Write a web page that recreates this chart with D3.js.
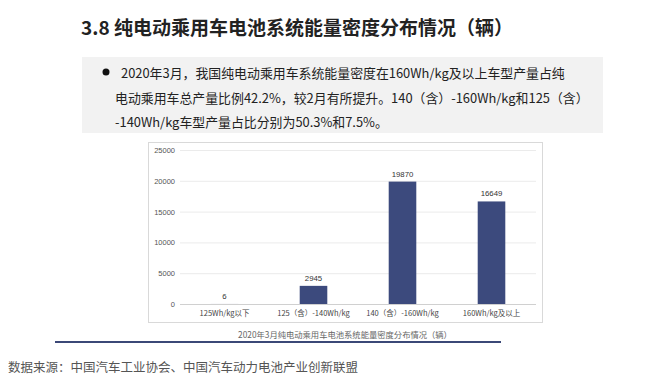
<!DOCTYPE html>
<html>
<head>
<meta charset="utf-8">
<script src="https://cdn.jsdelivr.net/npm/d3@7"></script>
<style>
  body { margin: 0; background: #fff; }
  svg text { font-family: "Noto Sans CJK SC", "Noto Sans", sans-serif; }
</style>
</head>
<body>
<div id="chart"></div>
<script>
/* Data */

var categories = ["125Wh/kg以下", "125（含）-140Wh/kg", "140（含）-160Wh/kg", "160Wh/kg及以上"];
var values = [6, 2945, 19870, 16649];
var yTicks = [0, 5000, 10000, 15000, 20000, 25000];

var titleText = "3.8 纯电动乘用车电池系统能量密度分布情况（辆）";
var noteLines = [
    "2020年3月，我国纯电动乘用车系统能量密度在160Wh/kg及以上车型产量占纯",
    "电动乘用车总产量比例42.2%，较2月有所提升。140（含）-160Wh/kg和125（含）",
    "-140Wh/kg车型产量占比分别为50.3%和7.5%。"
];
var captionText = "2020年3月纯电动乘用车电池系统能量密度分布情况（辆）";
var sourceText = "数据来源：中国汽车工业协会、中国汽车动力电池产业创新联盟";

var width = 648,
    height = 383;

var svg = d3.select("#chart").append("svg")
    .attr("width", width)
    .attr("height", height);

/* Title */
svg.append("text")
    .attr("x", 81).attr("y", 35)
    .attr("font-size", 19).attr("font-weight", "bold")
    .attr("fill", "#222")
    .text(titleText);

/* Note box */
svg.append("rect")
    .attr("x", 82).attr("y", 57)
    .attr("width", 521).attr("height", 76)
    .attr("fill", "#f2f2f2");
svg.append("circle")
    .attr("cx", 106).attr("cy", 72).attr("r", 3.5)
    .attr("fill", "#111");
svg.selectAll("text.note")
    .data(noteLines)
    .enter().append("text")
    .attr("class", "note")
    .attr("x", function(d, i) { return i == 0 ? 121 : 115; })
    .attr("y", function(d, i) { return 78 + i * 24.5; })
    .attr("font-size", 12.9)
    .attr("fill", "#222")
    .text(function(d) { return d; });

/* Chart frame */
svg.append("rect")
    .attr("x", 148.5).attr("y", 142.5)
    .attr("width", 394).attr("height", 180)
    .attr("fill", "#fff")
    .attr("stroke", "#d9d9d9");

var x = d3.scaleBand()
    .domain(categories)
    .range([180, 536])
    .paddingInner(0.69)
    .paddingOuter(0.345);

var y = d3.scaleLinear()
    .domain([0, 25000])
    .range([304, 150]);

// gridlines
svg.append("g").selectAll("line")
    .data(yTicks)
    .enter().append("line")
    .attr("x1", 180).attr("x2", 536)
    .attr("y1", function(d) { return y(d) + 0.5; })
    .attr("y2", function(d) { return y(d) + 0.5; })
    .attr("stroke", function(d) { return d == 0 ? "#d0d0d0" : "#ebebeb"; });

// y axis labels
var yAxis = d3.axisLeft(y).tickValues(yTicks).tickFormat(d3.format("d")).tickSize(0).tickPadding(0);
var yg = svg.append("g").attr("transform", "translate(175,0)").call(yAxis);
yg.select(".domain").remove();
yg.selectAll("text")
    .attr("font-size", 7.5)
    .attr("fill", "#555")
    .style("font-family", "'Liberation Sans', sans-serif");

// bars
svg.append("g").selectAll("rect")
    .data(values)
    .enter().append("rect")
    .attr("x", function(d, i) { return x(categories[i]); })
    .attr("width", x.bandwidth())
    .attr("y", function(d) { return y(d); })
    .attr("height", function(d) { return y(0) - y(d); })
    .attr("fill", "#3c4a7d");

// value labels
svg.append("g").selectAll("text")
    .data(values)
    .enter().append("text")
    .attr("x", function(d, i) { return x(categories[i]) + x.bandwidth() / 2; })
    .attr("y", function(d) { return y(d) - 5; })
    .attr("text-anchor", "middle")
    .attr("font-size", 7.8)
    .attr("fill", "#333")
    .style("font-family", "'Liberation Sans', sans-serif")
    .text(function(d) { return d; });

// x axis labels
var xAxis = d3.axisBottom(x).tickSize(0).tickPadding(0);
var xg = svg.append("g").attr("transform", "translate(0,311)").call(xAxis);
xg.select(".domain").remove();
xg.selectAll("text")
    .attr("font-size", 7.5)
    .attr("fill", "#444");

/* Caption and rule */
svg.append("text")
    .attr("x", 345).attr("y", 338)
    .attr("text-anchor", "middle")
    .attr("font-size", 8.3)
    .attr("fill", "#666")
    .text(captionText);
svg.append("rect")
    .attr("x", 55).attr("y", 341)
    .attr("width", 446).attr("height", 2)
    .attr("fill", "#3b4877");

/* Source */
svg.append("text")
    .attr("x", 8).attr("y", 372)
    .attr("font-size", 12.5)
    .attr("fill", "#555")
    .text(sourceText);
</script>
</body>
</html>
